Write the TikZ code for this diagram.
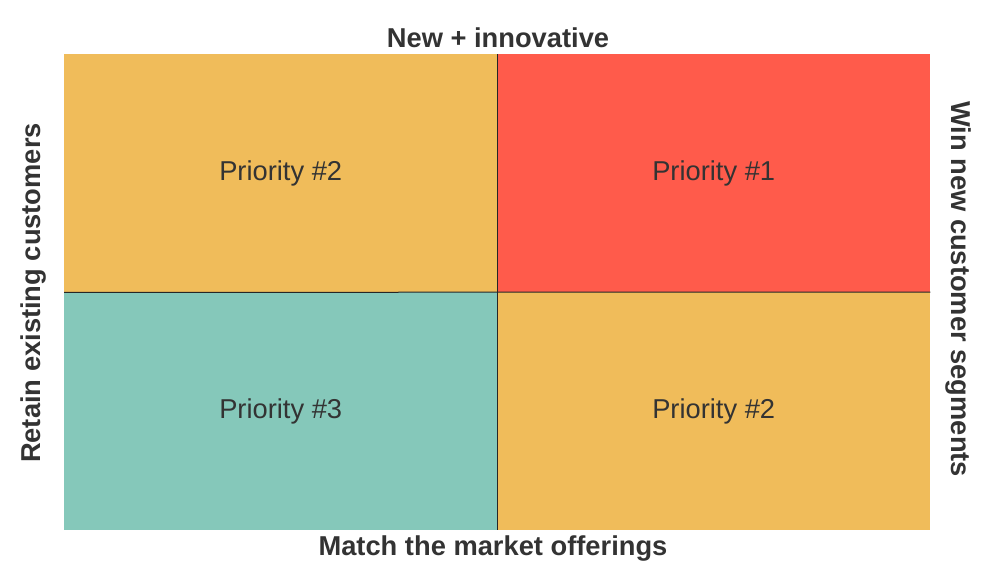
\documentclass[tikz,border=0pt]{standalone}
\usepackage{fontspec}
\setmainfont{Liberation Sans}
\definecolor{qorange}{HTML}{F0BC5A}
\definecolor{qred}{HTML}{FF5B4B}
\definecolor{qteal}{HTML}{85C8BA}
\definecolor{qtext}{HTML}{333333}
\begin{document}
\begin{tikzpicture}[x=1pt,y=-1pt,
  quad/.style={draw=none,minimum width=433pt,minimum height=238pt,inner sep=0pt,anchor=north west,text=qtext,font=\fontsize{27.3}{30}\selectfont},
  axis/.style={text=qtext,font=\bfseries\fontsize{27.3}{30}\selectfont,inner sep=0pt}]
\useasboundingbox (0,0) rectangle (988,565);
\node[quad,fill=qorange] (q2a) at (64,54) {\raisebox{-0.5pt}{Priority \#2}};
\node[quad,fill=qred] (q1) at (497,54) {\raisebox{-0.5pt}{Priority \#1}};
\node[quad,fill=qteal] (q3) at (64,292) {\raisebox{-0.5pt}{Priority \#3}};
\node[quad,fill=qorange] (q2b) at (497,292) {\raisebox{-0.5pt}{Priority \#2}};
\draw[line width=1pt,black!85] (q2a.north east) -- (q3.south east);
\draw[line width=1pt,black!85] (q2a.south west) -- (q2b.north east);
\node[axis] (top) at (498,38) {New + innovative};
\node[axis] (bot) at (493,548) {Match the market offerings};
\node[axis,rotate=90] (left) at (34,293) {Retain existing customers};
\node[axis,rotate=-90] (right) at (958,289) {Win new customer segments};
\end{tikzpicture}
\end{document}
